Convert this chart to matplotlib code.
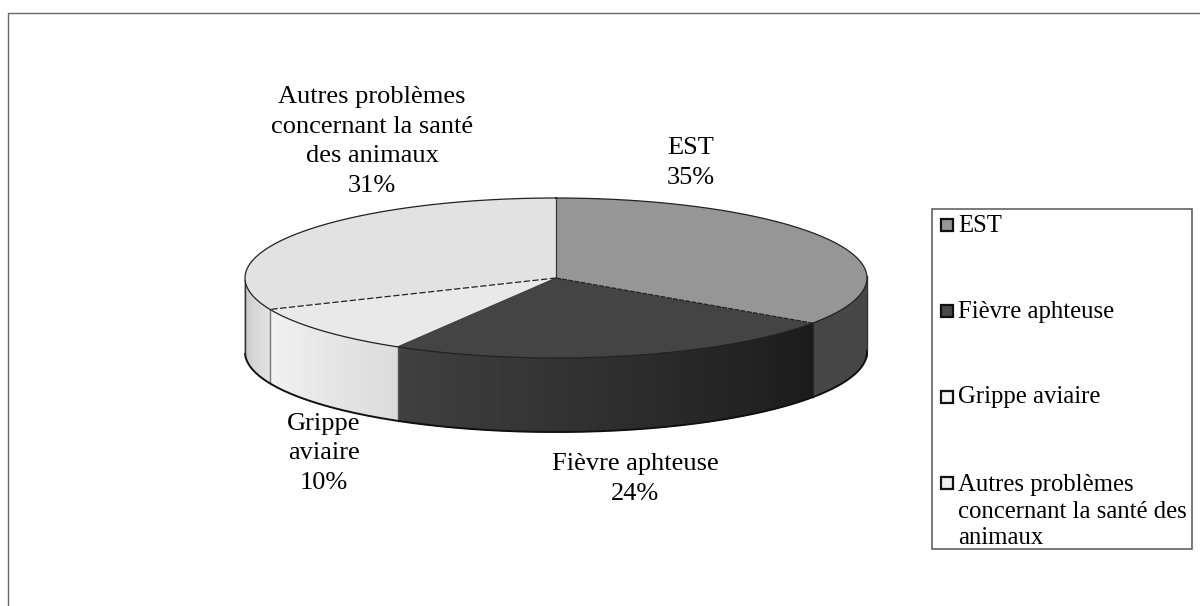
import numpy as np
import matplotlib
matplotlib.use("Agg")
import matplotlib.pyplot as plt
from matplotlib.colors import to_rgb
from matplotlib.patches import Polygon, Rectangle

plt.rcParams['font.family'] = ['Liberation Serif', 'DejaVu Serif']

# --- DONNEES ---
labels = ['EST', 'Fièvre aphteuse', 'Grippe aviaire',
          'Autres problèmes concernant la santé des animaux']
values = [35, 24, 10, 31]
top_colors = ['#969696', '#444444', '#e9e9e9', '#e2e2e2']
# couleurs des parois : bord gauche puis bord droit
wall_left = ['#474747', '#404040', '#f2f2f2', '#c8c8c8']
wall_right = ['#474747', '#1b1b1b', '#dcdcdc', '#e2e2e2']
legend_colors = ['#969696', '#4a4a4a', '#f4f4f4', '#eeeeee']

pie_labels = ['EST\n35%', 'Fièvre aphteuse\n24%', 'Grippe\naviaire\n10%',
              'Autres problèmes\nconcernant la santé\ndes animaux\n31%']
label_pos = [(691, 184), (635, 500), (324, 489), (372, 192)]
legend_labels = ['EST', 'Fièvre aphteuse', 'Grippe aviaire',
                 'Autres problèmes\nconcernant la santé des\nanimaux']
legend_y = [225, 311, 397, 483]
legend_base = [232, 318, 403, 544]

# géométrie du disque en perspective (pixels)
cx, cy = 556, 278
rx, ry = 311, 80
depth = 74


def rim(a):
    # a : angle en degrés, sens horaire depuis le haut
    # petit glissement dû à la perspective de la vue 3D
    t = np.radians(a - 1.85 * np.sin(np.radians(np.asarray(a) / 2)))
    return cx + rx * np.sin(t), cy - ry * np.cos(t)


fig = plt.figure(figsize=(12, 6.06), dpi=100)
ax = fig.add_axes([0, 0, 1, 1])
ax.set_xlim(0, 1200)
ax.set_ylim(606, 0)
ax.axis('off')

# cadre extérieur
ax.plot([8, 8, 1200], [606, 13, 13], color='#666666', lw=1.0, solid_capstyle='butt')

edges = np.cumsum([0] + values) * 3.6

# --- PAROIS ---
for i in range(4):
    a0, a1 = edges[i], edges[i + 1]
    # seule la partie avant du disque est visible
    a0v, a1v = max(a0, 90), min(a1, 270)
    if a1v <= a0v:
        continue
    steps = np.linspace(a0v, a1v, 60)
    xs, ys = rim(steps)
    c_l = np.array(to_rgb(wall_left[i]))
    c_r = np.array(to_rgb(wall_right[i]))
    for k in range(len(steps) - 1):
        # dégradé horizontal, de la droite vers la gauche de la part
        f = k / (len(steps) - 2)
        col = c_r + (c_l - c_r) * f
        ax.add_patch(Polygon([(xs[k], ys[k]), (xs[k + 1], ys[k + 1]),
                              (xs[k + 1], ys[k + 1] + depth), (xs[k], ys[k] + depth)],
                             closed=True, fc=col, ec=col, lw=1.3, zorder=2))

# bande blanche sous le bord bas, pour garder un contour net
arc = np.linspace(90, 270, 240)
bx, by = rim(arc)
by = by + depth
band = list(zip(bx, by + 0.5)) + list(zip(bx[::-1], by[::-1] + 6))
ax.add_patch(Polygon(band, closed=True, fc='white', ec='none', zorder=2.5))

# séparations verticales des parois
for a, col in [(edges[1], '#2a2a2a'), (edges[2], '#555555'), (edges[3], '#777777')]:
    x, y = rim(a)
    ax.plot([x, x], [y, y + depth], color=col, lw=1.0, zorder=3)

# contour bas et côtés
ax.plot(bx, by, color='#111111', lw=1.4, zorder=3)
for a in (90.0, 270.0):
    x, y = rim(a)
    ax.plot([x, x], [y, y + depth], color='#333333', lw=1.0, zorder=3)

# --- DESSUS ---
for i in range(4):
    t = np.linspace(edges[i], edges[i + 1], 120)
    xs, ys = rim(t)
    pts = [(cx, cy)] + list(zip(xs, ys))
    ax.add_patch(Polygon(pts, closed=True, fc=top_colors[i], ec='none', zorder=4))

# bord de l'ellipse
t = np.linspace(0, 360, 400)
xs, ys = rim(t)
ax.plot(xs, ys, color='#222222', lw=0.9, zorder=5)

# rayons : tirets sur les parts claires, trait continu en haut
x, y = rim(edges[1])
ax.plot([cx, x], [cy, y], color='#222222', lw=0.9, ls=(0, (4, 1)), zorder=5)
x, y = rim(edges[2])
ax.plot([cx, x], [cy, y], color='#333333', lw=0.7, zorder=5)
x, y = rim(edges[3])
ax.plot([cx, x], [cy, y], color='#222222', lw=0.9, ls=(0, (5, 2)), zorder=5)
x, y = rim(0.0)
ax.plot([cx, x], [cy, y], color='#333333', lw=0.9, zorder=5)

# --- ETIQUETTES ---
for txt, (x, y) in zip(pie_labels, label_pos):
    ax.text(x, y, txt, ha='center', va='baseline', fontsize=19, color='black',
            linespacing=1.45, zorder=6)

# --- LEGENDE ---
ax.add_patch(Rectangle((932, 209), 260, 340, fc='white', ec='#555555', lw=1.1, zorder=6))
for lab, col, y, b in zip(legend_labels, legend_colors, legend_y, legend_base):
    ax.add_patch(Rectangle((941, y - 6), 12, 12, fc=col, ec='#111111', lw=1.6, zorder=7))
    ax.text(958, b, lab, ha='left', va='baseline', fontsize=17.8, color='black',
            linespacing=1.25, zorder=7)

fig.savefig('out.png', dpi=100)
